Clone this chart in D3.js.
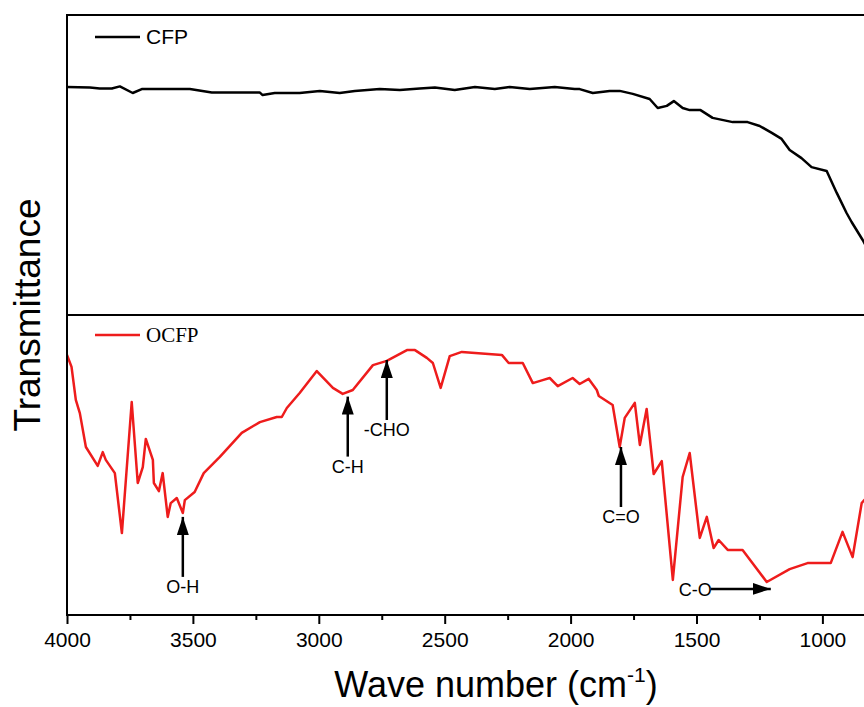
<!DOCTYPE html>
<html>
<head>
<meta charset="utf-8">
<script src="https://cdn.jsdelivr.net/npm/d3@7"></script>
<style>
  body { margin: 0; background: #fff; }
  svg { display: block; }
</style>
</head>
<body>
<svg width="864" height="707"></svg>
<script>
// wave numbers (cm-1) and transmittance (a.u.)
const cfpWave = [4000, 3909, 3870, 3822, 3790, 3739, 3703, 3512, 3425, 3235, 3223, 3175, 3076, 2996,
  2917, 2857, 2758, 2678, 2599, 2539, 2460, 2380, 2301, 2242, 2162, 2063, 1984, 1964, 1912, 1845,
  1805, 1753, 1686, 1654, 1618, 1590, 1555, 1527, 1484, 1436, 1356, 1297, 1249, 1201, 1162, 1130,
  1083, 1043, 983, 943, 904, 884, 840, 793];
const cfpT = [76.0, 75.8, 75.5, 75.5, 76.2, 74.0, 75.3, 75.3, 74.2, 74.2, 73.3, 74.0, 74.0, 74.7,
  74.0, 74.7, 75.3, 75.0, 75.5, 75.8, 75.0, 76.0, 75.3, 76.0, 75.3, 76.0, 75.3, 75.3, 74.0, 74.7,
  74.7, 73.7, 72.0, 69.0, 69.7, 71.3, 69.0, 68.3, 68.3, 65.7, 64.3, 64.3, 63.0, 60.7, 58.7, 55.0,
  52.3, 49.3, 48.0, 40.7, 34.0, 31.0, 25.0, 17.7];

const ocfpWave = [4000, 3982, 3965, 3949, 3925, 3878, 3858, 3846, 3810, 3782, 3743, 3719, 3699, 3687,
  3659, 3655, 3635, 3620, 3600, 3588, 3564, 3540, 3532, 3493, 3457, 3393, 3306, 3234, 3167, 3147,
  3127, 3076, 3008, 2944, 2905, 2865, 2785, 2730, 2650, 2618, 2571, 2547, 2516, 2480, 2432, 2273,
  2246, 2190, 2150, 2111, 2083, 2051, 1992, 1964, 1928, 1896, 1888, 1833, 1805, 1785, 1745, 1725,
  1698, 1670, 1638, 1594, 1555, 1527, 1487, 1459, 1432, 1412, 1376, 1317, 1221, 1130, 1059, 967,
  920, 880, 844, 800];
const ocfpT = [86.7, 82.7, 71.7, 67.3, 56.0, 49.7, 54.3, 51.7, 47.3, 27.3, 71.0, 44.0, 49.3, 58.7,
  51.7, 44.0, 41.3, 47.3, 32.7, 37.3, 39.0, 34.0, 38.3, 41.0, 47.3, 52.7, 60.7, 64.3, 66.0, 66.0,
  69.0, 74.0, 81.3, 75.7, 73.7, 75.0, 83.3, 84.7, 88.3, 88.3, 85.7, 84.0, 75.7, 86.3, 87.7, 86.7,
  84.0, 84.0, 77.3, 78.3, 79.0, 76.3, 79.0, 77.0, 78.7, 75.0, 73.0, 70.0, 56.0, 65.7, 70.7, 56.7,
  68.7, 47.0, 51.3, 11.7, 46.0, 54.0, 25.7, 32.7, 22.3, 25.0, 21.7, 21.7, 11.0, 15.3, 17.3, 17.3,
  27.7, 19.3, 37.3, 41.7];

const majorTicks = [4000, 3500, 3000, 2500, 2000, 1500, 1000];
const minorTicks = [3750, 3250, 2750, 2250, 1750, 1250];

// band assignments: label, wave number and transmittance at arrow tip
const bandLabels = ["O-H", "C-H", "-CHO", "C=O", "C-O"];
const bandWave = [3540, 2885, 2730, 1800, 1205];
const bandT = [32.7, 72.8, 85.0, 56.0, 8.7];
const bandDir = ["up", "up", "up", "up", "right"];

const svg = d3.select("svg");
const padLeft = 67, padTop = 15, panelH = 300;
const x = d3.scaleLinear().domain([4000, 400]).range([padLeft, padLeft + 3600 * 0.2518]);
const plotRight = x.range()[1];
const yTop = d3.scaleLinear().domain([0, 100]).range([padTop + panelH, padTop]);
const yBot = d3.scaleLinear().domain([0, 100]).range([padTop + 2 * panelH, padTop + panelH]);

const defs = svg.append("defs");
defs.append("clipPath").attr("id", "clip")
  .append("rect").attr("x", padLeft).attr("y", padTop)
  .attr("width", plotRight - padLeft).attr("height", 2 * panelH);

const line = (ys) => d3.line().x((d) => x(d[0])).y((d) => ys(d[1]));

svg.append("path")
  .datum(d3.zip(cfpWave, cfpT))
  .attr("clip-path", "url(#clip)")
  .attr("fill", "none").attr("stroke", "#000").attr("stroke-width", 2.5)
  .attr("stroke-linejoin", "round")
  .attr("d", line(yTop));

svg.append("path")
  .datum(d3.zip(ocfpWave, ocfpT))
  .attr("clip-path", "url(#clip)")
  .attr("fill", "none").attr("stroke", "#ee1c1c").attr("stroke-width", 2.5)
  .attr("stroke-linejoin", "round")
  .attr("d", line(yBot));

// frames
[padTop, padTop + panelH].forEach((y0) => {
  svg.append("rect").attr("x", padLeft).attr("y", y0)
    .attr("width", plotRight - padLeft).attr("height", panelH)
    .attr("fill", "none").attr("stroke", "#000").attr("stroke-width", 2);
});

// bottom axis
const axisG = svg.append("g").attr("transform", `translate(0,${padTop + 2 * panelH})`);
axisG.call(d3.axisBottom(x).tickValues(majorTicks).tickSize(9).tickPadding(8).tickFormat(d3.format("d")));
axisG.select(".domain").remove();
axisG.selectAll(".tick line").attr("stroke-width", 2);
axisG.selectAll(".tick text")
  .attr("font-family", "Liberation Sans, Arial, sans-serif")
  .attr("font-size", 21).attr("fill", "#000");

const minorG = svg.append("g").attr("transform", `translate(0,${padTop + 2 * panelH})`);
minorG.call(d3.axisBottom(x).tickValues(minorTicks).tickSize(5).tickFormat(""));
minorG.select(".domain").remove();
minorG.selectAll(".tick line").attr("stroke-width", 2);

// legends
const legends = [
  { label: "CFP", color: "#000", y: padTop + 22, font: "Liberation Sans, Arial, sans-serif" },
  { label: "OCFP", color: "#ee1c1c", y: padTop + panelH + 20, font: "Liberation Serif, Times New Roman, serif" },
];
legends.forEach((l) => {
  svg.append("line").attr("x1", 95).attr("x2", 140).attr("y1", l.y).attr("y2", l.y)
    .attr("stroke", l.color).attr("stroke-width", 2.5);
  svg.append("text").attr("x", 146).attr("y", l.y + 7)
    .attr("font-family", l.font).attr("font-size", 21).attr("fill", "#000").text(l.label);
});

// arrow head marker
defs.append("marker")
  .attr("id", "head").attr("markerUnits", "userSpaceOnUse")
  .attr("viewBox", "0 0 18 12").attr("refX", 18).attr("refY", 6)
  .attr("markerWidth", 18).attr("markerHeight", 12).attr("orient", "auto")
  .append("path").attr("d", "M0,0L18,6L0,12Z").attr("fill", "#000");

const arrowLen = 60;
bandLabels.forEach((lab, i) => {
  const tx = x(bandWave[i]), ty = yBot(bandT[i]);
  const g = svg.append("g");
  if (bandDir[i] === "up") {
    g.append("line").attr("x1", tx).attr("x2", tx).attr("y1", ty + arrowLen).attr("y2", ty)
      .attr("stroke", "#000").attr("stroke-width", 2.5).attr("marker-end", "url(#head)");
    g.append("text").attr("x", tx).attr("y", ty + arrowLen + 16).attr("text-anchor", "middle")
      .attr("font-family", "Liberation Sans, Arial, sans-serif").attr("font-size", 18).text(lab);
  } else {
    g.append("line").attr("x1", tx - arrowLen).attr("x2", tx).attr("y1", ty).attr("y2", ty)
      .attr("stroke", "#000").attr("stroke-width", 2.5).attr("marker-end", "url(#head)");
    g.append("text").attr("x", tx - arrowLen + 1).attr("y", ty + 7).attr("text-anchor", "end")
      .attr("font-family", "Liberation Sans, Arial, sans-serif").attr("font-size", 18).text(lab);
  }
});

// axis titles
svg.append("text")
  .attr("transform", `translate(40,${padTop + panelH}) rotate(-90)`)
  .attr("text-anchor", "middle")
  .attr("font-family", "Liberation Sans, Arial, sans-serif").attr("font-size", 37)
  .text("Transmittance");

const xt = svg.append("text")
  .attr("x", 496).attr("y", 697).attr("text-anchor", "middle")
  .attr("font-family", "Liberation Sans, Arial, sans-serif").attr("font-size", 36);
xt.append("tspan").text("Wave number (cm");
xt.append("tspan").attr("font-size", 21).attr("dy", -15).text("-1");
xt.append("tspan").attr("dy", 15).text(")");
</script>
</body>
</html>
